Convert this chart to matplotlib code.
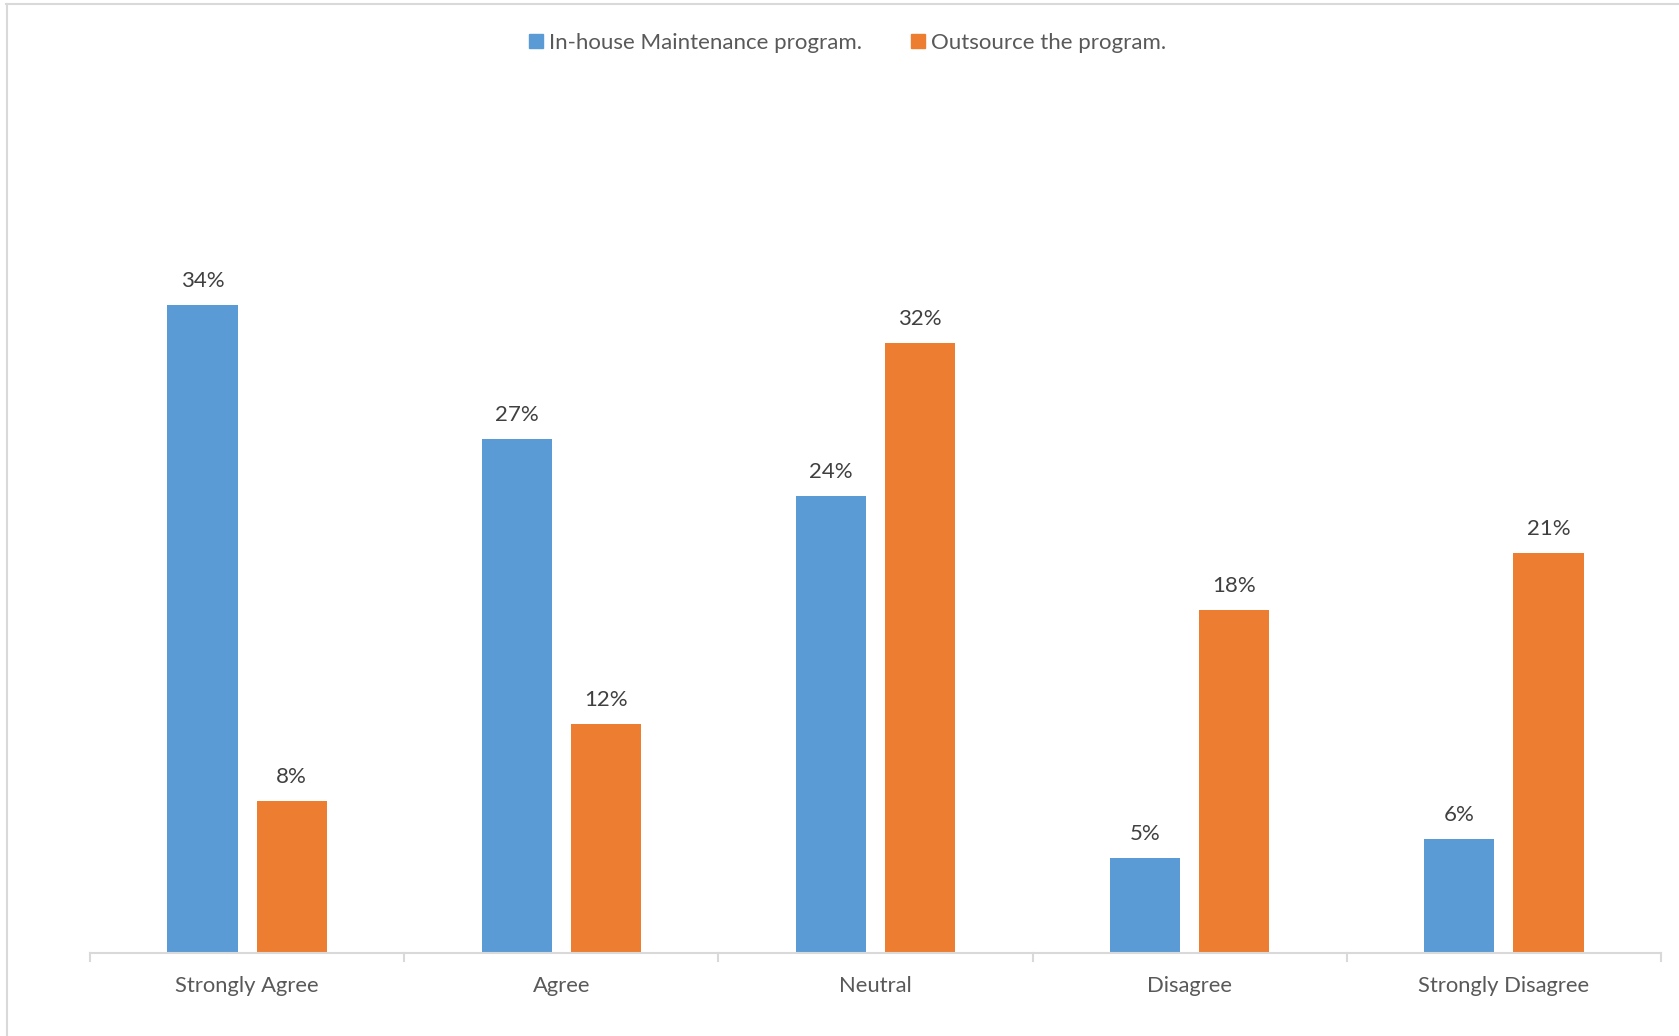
import matplotlib
matplotlib.use('Agg')
import matplotlib.pyplot as plt
from matplotlib.patches import Patch
from matplotlib.lines import Line2D
import numpy as np

categories = ['Strongly Agree', 'Agree', 'Neutral', 'Disagree', 'Strongly Disagree']
inhouse = [34, 27, 24, 5, 6]
outsource = [8, 12, 32, 18, 21]
series_names = ['In-house Maintenance program.', 'Outsource the program.']

blue = '#5B9BD5'
orange = '#ED7D31'
txt = '#404040'
grid_c = '#D9D9D9'

plt.rcParams['font.family'] = ['Lato', 'DejaVu Sans']

W, H = 1679, 1036
fig = plt.figure(figsize=(W / 100, H / 100), dpi=100)
# axes placed in pixel units
x0, x1, yb = 90, 1661, 953
ymax = 40
ppu = 19.05
ax = fig.add_axes([x0 / W, (H - yb) / H, (x1 - x0) / W, ymax * ppu / H])

x = np.arange(len(categories))
bw = 0.223
off = 0.142
b1 = ax.bar(x - off, inhouse, bw, color=blue)
b2 = ax.bar(x + off, outsource, bw, color=orange)

for bars, vals in ((b1, inhouse), (b2, outsource)):
    for b, v in zip(bars, vals):
        ax.annotate(str(v) + '%', (b.get_x() + b.get_width() / 2, v),
                    xytext=(0, 24), textcoords='offset pixels',
                    ha='center', va='center', fontsize=16, color=txt)

ax.set_xlim(-0.5, len(categories) - 0.5)
ax.set_ylim(0, ymax)
for s in ['top', 'right', 'left']:
    ax.spines[s].set_visible(False)
ax.spines['bottom'].set_color(grid_c)
ax.spines['bottom'].set_linewidth(1.5)
ax.set_yticks([])
ax.set_xticks(x)
ax.set_xticklabels(categories, fontsize=15.8, color='#595959')
ax.tick_params(axis='x', length=0, pad=16.5)
# category separator ticks
for b in np.arange(len(categories) + 1) - 0.5:
    ax.plot([b, b], [0, -0.4], color=grid_c, lw=1.5, clip_on=False)

# border lines of the chart area
fig.add_artist(Line2D([6 / W, 1], [1 - 4 / H, 1 - 4 / H], color=grid_c, lw=1.5))
fig.add_artist(Line2D([6.5 / W, 6.5 / W], [0, 1 - 4 / H], color=grid_c, lw=1.5))

handles = [Patch(color=blue), Patch(color=orange)]
fig.legend(handles, series_names, loc='center', bbox_to_anchor=(848 / W, 1 - 43 / H),
           ncol=2, frameon=False, fontsize=16, labelcolor='#595959',
           handlelength=0.6, handleheight=0.6, handletextpad=0.3, columnspacing=2.2)

fig.savefig('out.png', dpi=100)
